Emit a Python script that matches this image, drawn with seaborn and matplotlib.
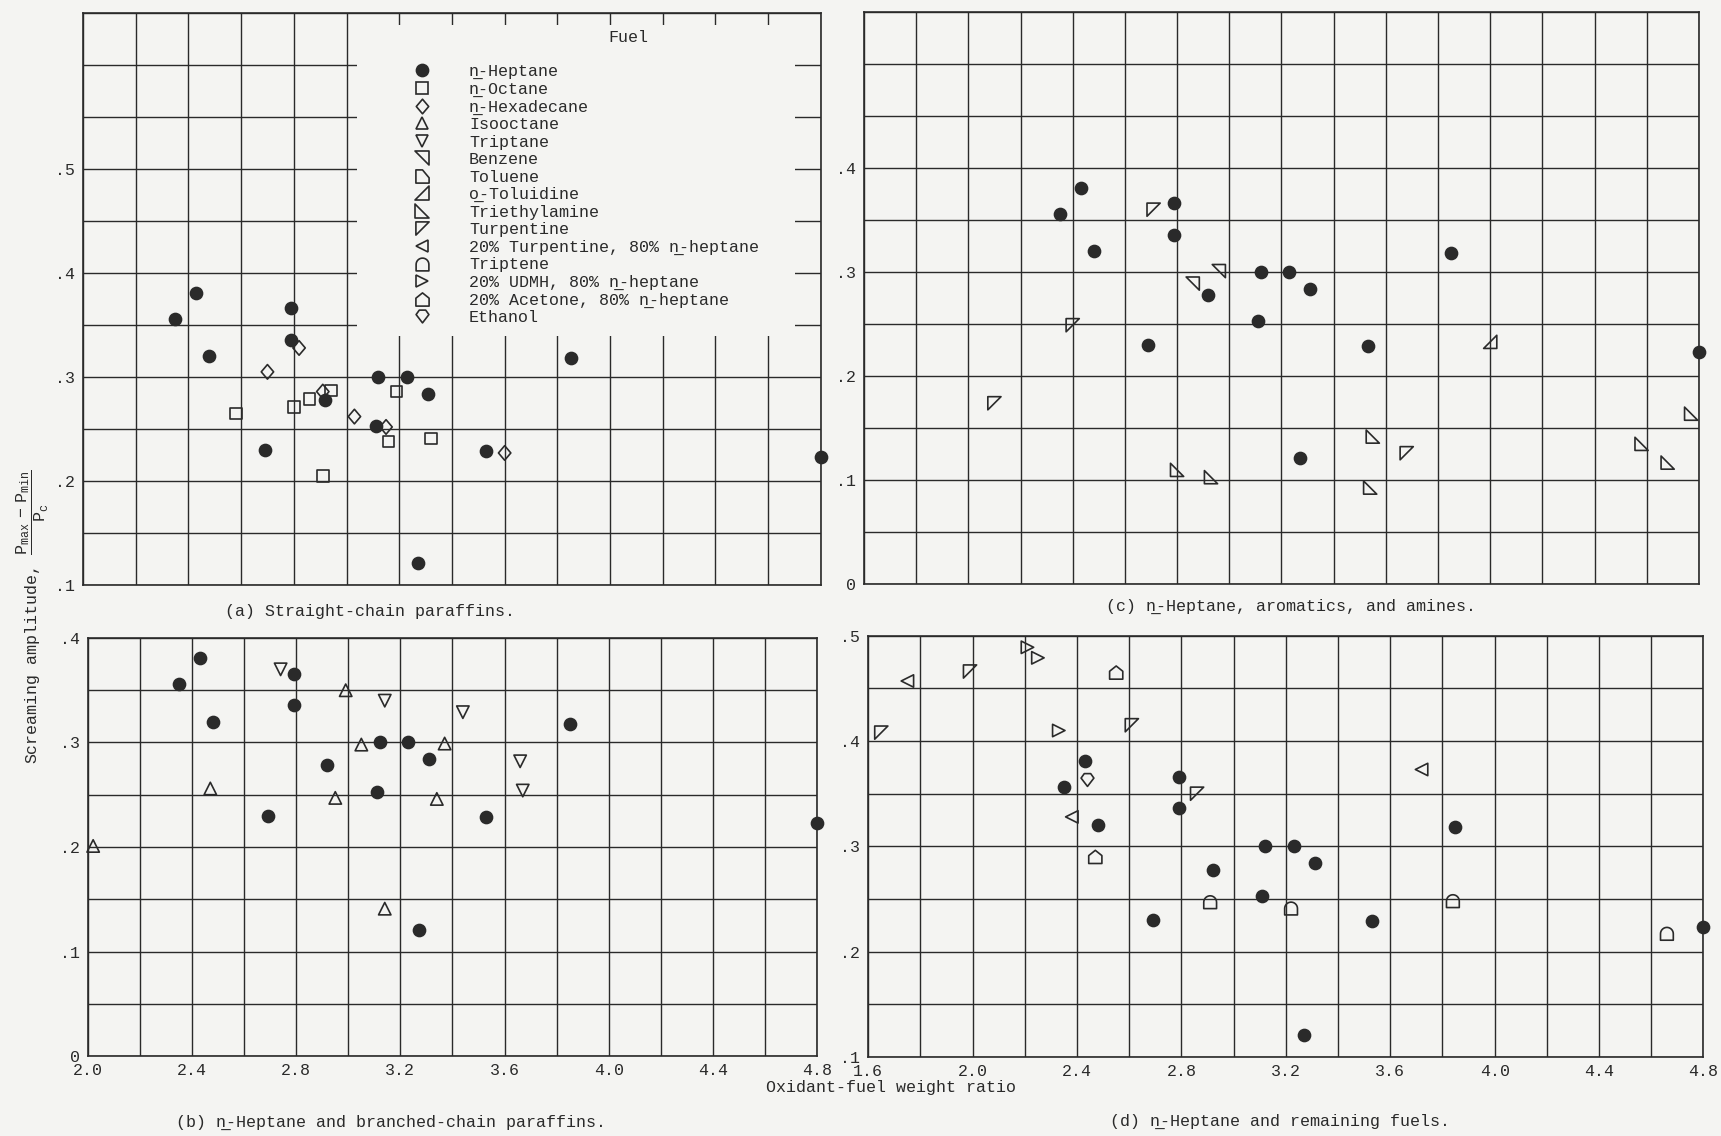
import numpy as np
import pandas as pd
import matplotlib.pyplot as plt
import seaborn as sns
from matplotlib.path import Path
from matplotlib.lines import Line2D
from matplotlib.patches import Rectangle

# n-Heptane runs (same points appear in every panel)
heptane_x = [2.35, 2.43, 2.48, 2.69, 2.79, 2.79, 2.92, 3.12, 3.11, 3.23, 3.31, 3.27, 3.53, 3.85, 4.80]
heptane_y = [0.356, 0.381, 0.320, 0.230, 0.366, 0.336, 0.278, 0.300, 0.253, 0.300, 0.284, 0.121, 0.229, 0.318, 0.223]

# (a) straight-chain paraffins
octane_x = [2.58, 2.80, 2.86, 2.94, 2.91, 3.16, 3.19, 3.32]
octane_y = [0.265, 0.271, 0.279, 0.287, 0.205, 0.238, 0.286, 0.241]
hexadecane_x = [2.70, 2.82, 2.91, 3.03, 3.15, 3.60]
hexadecane_y = [0.305, 0.328, 0.286, 0.262, 0.252, 0.227]

# (b) branched-chain paraffins
isooctane_x = [2.02, 2.47, 2.95, 2.99, 3.05, 3.14, 3.34, 3.37]
isooctane_y = [0.201, 0.256, 0.247, 0.350, 0.298, 0.141, 0.246, 0.299]
triptane_x = [2.74, 3.14, 3.44, 3.66, 3.67]
triptane_y = [0.370, 0.340, 0.329, 0.282, 0.254]

# (c) aromatics and amines
benzene_x = [2.86, 2.96]
benzene_y = [0.289, 0.301]
toluene_x = [2.10, 2.40, 2.71, 3.68]
toluene_y = [0.174, 0.249, 0.360, 0.126]
toluidine_x = [4.00]
toluidine_y = [0.233]
triethylamine_x = [2.80, 2.93, 3.55, 3.54, 4.58, 4.68, 4.77]
triethylamine_y = [0.110, 0.103, 0.142, 0.093, 0.135, 0.117, 0.164]

# (d) remaining fuels
turpentine_x = [1.65, 1.99, 2.61, 2.86]
turpentine_y = [0.408, 0.466, 0.415, 0.350]
turp_mix_x = [1.75, 2.38, 3.72]
turp_mix_y = [0.457, 0.328, 0.373]
triptene_x = [2.91, 3.22, 3.84, 4.66]
triptene_y = [0.247, 0.241, 0.248, 0.217]
udmh_x = [2.21, 2.25, 2.33]
udmh_y = [0.489, 0.479, 0.410]
acetone_x = [2.55, 2.47]
acetone_y = [0.465, 0.290]
ethanol_x = [2.44]
ethanol_y = [0.363]

fuel_names = ["n\u0332-Heptane", "n\u0332-Octane", "n\u0332-Hexadecane", "Isooctane", "Triptane",
              "Benzene", "Toluene", "o\u0332-Toluidine", "Triethylamine", "Turpentine",
              "20% Turpentine, 80% n\u0332-heptane", "Triptene", "20% UDMH, 80% n\u0332-heptane",
              "20% Acetone, 80% n\u0332-heptane", "Ethanol"]

paper = "#f4f4f2"
ink = "#2a2a2a"
mono = ["Liberation Mono", "DejaVu Sans Mono"]


def poly(verts):
    return Path(verts + [verts[0]], closed=True)


t = np.linspace(0, np.pi, 16)
arch = [(1, -1)] + [(np.cos(a), np.sin(a)) for a in t] + [(-1, -1)]

m = {
    "circle": "o",
    "square": "s",
    "diamond": poly([(0, 1), (0.85, 0), (0, -1), (-0.85, 0)]),
    "up": "^",
    "down": "v",
    "benzene": poly([(-1, 1), (1, 1), (1, -1)]),
    "toluene": poly([(-1, 1), (1, 1), (-1, -1)]),
    "toluene_key": poly([(-1, 1), (0, 1), (1, -0.2), (1, -1), (-1, -1)]),
    "toluidine": poly([(-1, -1), (1, -1), (1, 1)]),
    "amine": poly([(-1, 1), (-1, -1), (1, -1)]),
    "turp": poly([(-1, 1), (1, 1), (-1, -1)]),
    "left": "<",
    "arch": Path(arch + [arch[0]], closed=True),
    "right": ">",
    "house": poly([(-1, -1), (-1, 0.2), (0, 1), (1, 0.2), (1, -1)]),
    "shield": poly([(-1, 0.3), (-0.5, 1), (0.5, 1), (1, 0.3), (0, -1)]),
}
key_markers = ["circle", "square", "diamond", "up", "down", "benzene", "toluene_key", "toluidine",
               "amine", "turp", "left", "arch", "right", "house", "shield"]
key_sizes = [8.7, 8.4, 10.5, 9, 9, 9.5, 9.5, 9.5, 9.5, 9.5, 9, 9.2, 9, 9.5, 9.2]

sns.set_theme(style="white")
plt.rcParams["font.family"] = mono
plt.rcParams["mathtext.fontset"] = "custom"
plt.rcParams["mathtext.rm"] = "Liberation Mono"
plt.rcParams["mathtext.it"] = "Liberation Mono"
plt.rcParams["text.color"] = ink
plt.rcParams["xtick.color"] = ink
plt.rcParams["ytick.color"] = ink

fig = plt.figure(figsize=(17.21, 11.36), dpi=100, facecolor=paper)
ax_a = fig.add_axes([0.0482, 0.4850, 0.4288, 0.5035])
ax_b = fig.add_axes([0.0511, 0.0704, 0.4236, 0.3680])
ax_c = fig.add_axes([0.5020, 0.4856, 0.4852, 0.5039])
ax_d = fig.add_axes([0.5045, 0.0695, 0.4853, 0.3709])


def pts(ax, x, y, marker, filled=False, s=80):
    df = pd.DataFrame({"x": x, "y": y})
    sns.scatterplot(data=df, x="x", y="y", ax=ax, marker=m[marker], s=s,
                    facecolor=ink if filled else "none", edgecolor=ink,
                    linewidth=1.2, zorder=4, clip_on=False, legend=False)
    ax.set(xlabel="", ylabel="")


def frame(ax, xlim, ylim, ylab_vals, xlab_vals=None):
    ax.set_facecolor(paper)
    ax.set_axisbelow(True)
    ax.set_xlim(*xlim)
    ax.set_ylim(*ylim)
    ax.set_xticks(np.arange(xlim[0], xlim[1] + 0.01, 0.2), minor=True)
    ax.set_yticks(np.arange(ylim[0], ylim[1] + 0.001, 0.05), minor=True)
    ax.set_yticks(ylab_vals)
    ax.set_yticklabels(["0" if v == 0 else ("%.1f" % v)[1:] for v in ylab_vals])
    if xlab_vals is None:
        ax.set_xticks([])
    else:
        ax.set_xticks(xlab_vals)
        ax.set_xticklabels(["%.1f" % v for v in xlab_vals])
    ax.grid(which="both", color=ink, linewidth=1.0)
    ax.tick_params(which="both", length=0, labelsize=12)
    ax.tick_params(axis="y", pad=6)
    ax.tick_params(axis="x", pad=5)
    for sp in ax.spines.values():
        sp.set_color(ink)
        sp.set_linewidth(1.2)


# (a)
pts(ax_a, heptane_x, heptane_y, "circle", True, 75)
pts(ax_a, octane_x, octane_y, "square", s=70)
pts(ax_a, hexadecane_x, hexadecane_y, "diamond", s=110)
frame(ax_a, (2.0, 4.8), (0.1, 0.65), [0.1, 0.2, 0.3, 0.4, 0.5])
ax_a.add_patch(Rectangle((3.04, 0.339), 1.66, 0.300, facecolor=paper, edgecolor="none", zorder=1))

# (b)
pts(ax_b, heptane_x, heptane_y, "circle", True, 75)
pts(ax_b, isooctane_x, isooctane_y, "up", s=80)
pts(ax_b, triptane_x, triptane_y, "down", s=80)
frame(ax_b, (2.0, 4.8), (0.0, 0.4), [0.0, 0.1, 0.2, 0.3, 0.4],
      [2.0, 2.4, 2.8, 3.2, 3.6, 4.0, 4.4, 4.8])

# (c)
pts(ax_c, heptane_x, heptane_y, "circle", True, 75)
pts(ax_c, benzene_x, benzene_y, "benzene", s=90)
pts(ax_c, toluene_x, toluene_y, "toluene", s=90)
pts(ax_c, toluidine_x, toluidine_y, "toluidine", s=90)
pts(ax_c, triethylamine_x, triethylamine_y, "amine", s=90)
frame(ax_c, (1.6, 4.8), (0.0, 0.55), [0.0, 0.1, 0.2, 0.3, 0.4])

# (d)
pts(ax_d, heptane_x, heptane_y, "circle", True, 75)
pts(ax_d, turpentine_x, turpentine_y, "turp", s=90)
pts(ax_d, turp_mix_x, turp_mix_y, "left", s=80)
pts(ax_d, triptene_x, triptene_y, "arch", s=85)
pts(ax_d, udmh_x, udmh_y, "right", s=80)
pts(ax_d, acetone_x, acetone_y, "house", s=90)
pts(ax_d, ethanol_x, ethanol_y, "shield", s=85)
frame(ax_d, (1.6, 4.8), (0.1, 0.5), [0.1, 0.2, 0.3, 0.4, 0.5],
      [1.6, 2.0, 2.4, 2.8, 3.2, 3.6, 4.0, 4.4, 4.8])

# legend
handles = []
for i, name in enumerate(fuel_names):
    filled = i == 0
    handles.append(Line2D([], [], linestyle="none", marker=m[key_markers[i]], markersize=key_sizes[i],
                          markerfacecolor=ink if filled else "none", markeredgecolor=ink,
                          markeredgewidth=1.2, label=name))
leg = fig.legend(handles=handles, loc="upper left", bbox_to_anchor=(0.2405, 0.9435),
                 frameon=False, fontsize=12, labelspacing=0.15, handlelength=1.0,
                 handletextpad=2.3, borderpad=0, borderaxespad=0)
fig.text(0.365, 0.967, "Fuel", ha="center", va="center", fontsize=12)

# captions and axis titles
fig.text(0.215, 0.462, "(a) Straight-chain paraffins.", ha="center", va="center", fontsize=12)
fig.text(0.750, 0.466, "(c) n\u0332-Heptane, aromatics, and amines.", ha="center", va="center", fontsize=12)
fig.text(0.227, 0.012, "(b) n\u0332-Heptane and branched-chain paraffins.", ha="center", va="center", fontsize=12)
fig.text(0.744, 0.013, "(d) n\u0332-Heptane and remaining fuels.", ha="center", va="center", fontsize=12)
fig.text(0.518, 0.043, "Oxidant-fuel weight ratio", ha="center", va="center", fontsize=12)
fig.text(0.019, 0.457, r"Screaming amplitude, $\dfrac{P_{max}\ -\ P_{min}}{P_{c}}$",
         rotation=90, ha="center", va="center", fontsize=12)

fig.savefig("out.png", dpi=100, facecolor=paper)
